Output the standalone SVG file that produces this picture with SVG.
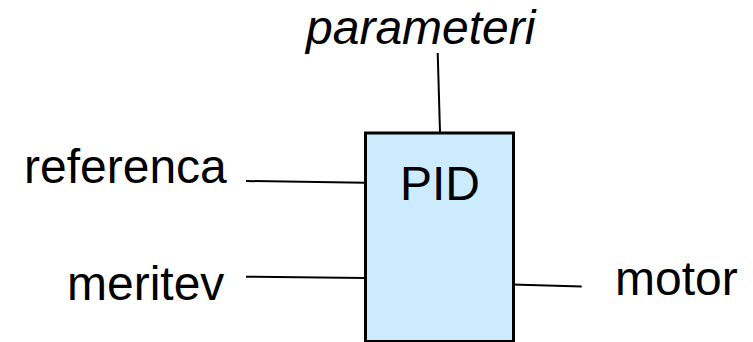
<svg xmlns="http://www.w3.org/2000/svg" width="753" height="342" viewBox="0 0 753 342">
<style>
.t{font-family:"Liberation Sans",Arial,sans-serif;font-size:48px;fill:#000}
.c{stroke:#000;stroke-width:2;fill:none}
</style>
<rect width="753" height="342" fill="#fff"/>
<g id="pid">
<rect x="365.5" y="133" width="148" height="208.5" fill="#CCEBFF" stroke="#000" stroke-width="3"/>
<text class="t" x="440" y="200" text-anchor="middle">PID</text>
</g>
<g id="parameteri"><text class="t" x="306" y="44" font-style="italic" font-size="49">parameteri</text></g>
<g id="referenca"><text class="t" x="24" y="183">referenca</text></g>
<g id="meritev"><text class="t" x="67" y="300">meritev</text></g>
<g id="motor"><text class="t" x="615" y="295">motor</text></g>
<g id="connectors">
<line class="c" x1="437.7" y1="53" x2="440" y2="132"/>
<line class="c" x1="246" y1="181" x2="365" y2="182.7"/>
<line class="c" x1="246" y1="276.7" x2="365" y2="278"/>
<line class="c" x1="512" y1="284.5" x2="581.7" y2="286.5"/>
</g>
</svg>
